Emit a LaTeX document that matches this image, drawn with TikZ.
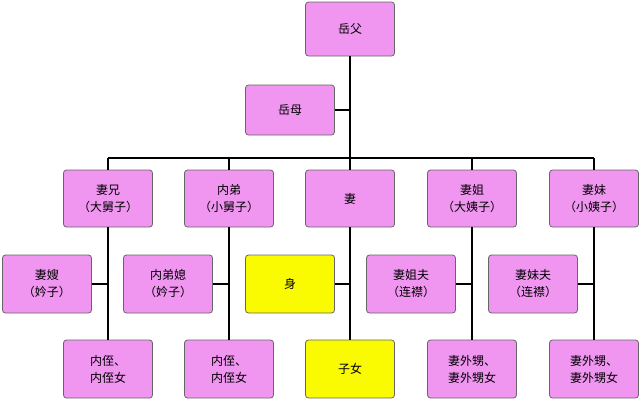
\documentclass[tikz,border=0pt]{standalone}
\usepackage{fontspec}
\setmainfont{Noto Sans CJK SC}
\definecolor{pk}{RGB}{240,150,240}
\definecolor{yl}{RGB}{250,250,0}
\begin{document}
\begin{tikzpicture}[x=1pt,y=-1pt,
 bx/.style={draw=black!60,line width=0.8pt,rounded corners=3pt,fill=pk,minimum width=89pt,align=center,font=\fontsize{12}{17}\selectfont,inner sep=0pt},
 r1/.style={bx,minimum height=57pt},
 ln/.style={line width=1.6pt}]
\useasboundingbox (0,0) rectangle (640,400);
\node[bx,minimum height=54pt] (yf) at (350,29) {岳父};
\node[bx,minimum height=50pt] (ym) at (290,110) {岳母};
\node[r1] (a1) at (108,198.5) {妻兄\\（大舅子）};
\node[r1] (a2) at (229,198.5) {内弟\\（小舅子）};
\node[r1] (a3) at (350,198.5) {妻};
\node[r1] (a4) at (472,198.5) {妻姐\\（大姨子）};
\node[r1] (a5) at (594,198.5) {妻妹\\（小姨子）};
\node[r1,minimum height=58pt] (b1) at (47,284) {妻嫂\\（妗子）};
\node[r1,minimum height=58pt] (b2) at (168,284) {内弟媳\\（妗子）};
\node[r1,minimum height=58pt,fill=yl] (b3) at (290,284) {身};
\node[r1,minimum height=58pt] (b4) at (411,284) {妻姐夫\\（连襟）};
\node[r1,minimum height=58pt] (b5) at (533,284) {妻妹夫\\（连襟）};
\node[r1,minimum height=58pt] (c1) at (108,369) {内侄、\\内侄女};
\node[r1,minimum height=58pt] (c2) at (229,369) {内侄、\\内侄女};
\node[r1,minimum height=58pt,fill=yl] (c3) at (350,369) {子女};
\node[r1,minimum height=58pt] (c4) at (472,369) {妻外甥、\\妻外甥女};
\node[r1,minimum height=58pt] (c5) at (594,369) {妻外甥、\\妻外甥女};
\coordinate (h) at (350,158);
\draw[ln] (yf.south) -- (h);
\draw[ln] (ym.east) -- (ym.east -| h);
\draw[ln] (a1.north |- h) -- (a5.north |- h);
\foreach \i in {1,...,5}{
 \draw[ln] (a\i.north |- h) -- (a\i.north);
 \draw[ln] (a\i.south) -- (c\i.north);
 \draw[ln] (b\i.east) -- (b\i.east -| a\i.south);
}
\end{tikzpicture}
\end{document}
